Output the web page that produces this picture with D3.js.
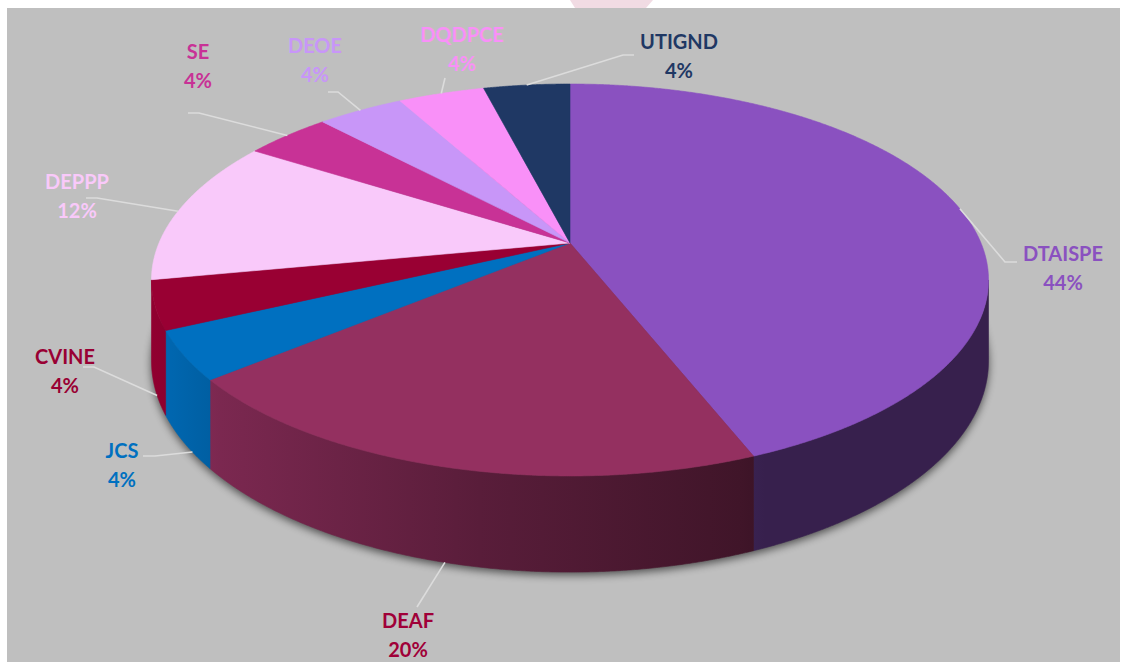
<!DOCTYPE html>
<html>
<head>
<meta charset="utf-8">
<script src="https://cdn.jsdelivr.net/npm/d3@7/dist/d3.min.js"></script>
<style>
html,body{margin:0;padding:0;background:#fff;}
svg{display:block;}
text{font-family:Lato,"Open Sans",sans-serif;font-weight:700;}
</style>
</head>
<body>
<svg id="chart" width="1125" height="665"></svg>
<script>
// ---- data ----
const categories = ["DTAISPE","DEAF","JCS","CVINE","DEPPP","SE","DEOE","DQDPCE","UTIGND"];
const values = [11,5,1,1,3,1,1,1,1];
const sliceColors = ["#8a51c0","#943060","#0070c0","#990033","#f9c9fa","#c83296","#c896f8","#f990f8","#1f3864"];
const labelColors = ["#8a51c0","#a00038","#0070c0","#990033","#f9c9fa","#c83296","#c896f8","#f990f8","#1f3864"];

// ---- layout (label placement, leader elbows) ----
const labelLayout = {
  DTAISPE:{x:1063,y:254,end:[1017,262],elbow:[1005,262]},
  DEAF:{x:408,y:621,end:[417,607],elbow:null},
  JCS:{x:122,y:451,end:[143,456],elbow:[155,456],anchorDeg:235},
  CVINE:{x:65,y:357,end:[83,367],elbow:[94,367],anchorDeg:250},
  DEPPP:{x:77,y:182,end:[86,198],elbow:[97,198],anchorDeg:280},
  SE:{x:198,y:52,end:[188,113],elbow:[199,113]},
  DEOE:{x:315,y:46,end:[328,92],elbow:[338,92]},
  DQDPCE:{x:462,y:35,end:[445,78],elbow:null},
  UTIGND:{x:679,y:42,end:[634,55],elbow:[623,55]}
};

const svg = d3.select("#chart");
const W = 1125, H = 665;

// background
svg.append("rect").attr("width",W).attr("height",H).attr("fill","#ffffff");
svg.append("polygon").attr("points","570,0 653,0 646,8 575,8").attr("fill","#f1dbe3");
svg.append("rect").attr("x",7).attr("y",8).attr("width",1113).attr("height",654).attr("fill","#bfbfbf");

// projection of a tilted disc with perspective
const cx = 570, cy = 243, A = 411, B = 189, k = 0.1887, depth = 78;
function proj(a, h){
  const u = Math.sin(a), v = -Math.cos(a);
  const s = 1/(1 - k*v);
  return [cx + A*u*s, cy + B*v*s + h*depth*s];
}
const pie = d3.pie().sort(null).value(d=>d)(values);
const step = Math.PI/720;
function arcPts(a0, a1, h){
  const pts=[]; const n=Math.max(2,Math.ceil((a1-a0)/step));
  for(let i=0;i<=n;i++){ pts.push(proj(a0+(a1-a0)*i/n, h)); }
  return pts;
}
const line = d3.line();

const defs = svg.append("defs");
const blur = defs.append("filter").attr("id","shadow").attr("x","-20%").attr("y","-20%").attr("width","140%").attr("height","140%");
blur.append("feGaussianBlur").attr("stdDeviation",4);

// shading along x for side walls
const shadeStops = [[150,0.95],[220,0.83],[480,0.6],[740,0.43],[765,0.40],[990,0.40]];
sliceColors.forEach((c,i)=>{
  const g = defs.append("linearGradient").attr("id","wall"+i)
    .attr("gradientUnits","userSpaceOnUse").attr("x1",150).attr("x2",990).attr("y1",0).attr("y2",0);
  const base = d3.rgb(c);
  shadeStops.forEach(([x,f])=>{
    g.append("stop").attr("offset",(x-150)/840)
      .attr("stop-color", d3.rgb(base.r*f, base.g*f, base.b*f).formatHex());
  });
});

// shadow
const shadowPts = arcPts(0, 2*Math.PI, 1).map(p=>[p[0], p[1]+3]);
svg.append("path").attr("d", line(shadowPts)+"Z").attr("fill","#000").attr("opacity",0.6).attr("filter","url(#shadow)");

// front walls
const aR = Math.acos(-k), aL = 2*Math.PI - Math.acos(-k);
const g = svg.append("g");
pie.forEach((d,i)=>{
  const a0 = Math.max(d.startAngle, aR), a1 = Math.min(d.endAngle, aL);
  if(a1 <= a0) return;
  const top = arcPts(a0, a1, 0), bot = arcPts(a0, a1, 1).reverse();
  g.append("path").attr("d", line(top.concat(bot))+"Z")
    .attr("fill","url(#wall"+i+")").attr("stroke","url(#wall"+i+")").attr("stroke-width",0.6);
});

// top faces
pie.forEach((d,i)=>{
  const pts = [[cx,cy]].concat(arcPts(d.startAngle, d.endAngle, 0));
  g.append("path").attr("d", line(pts)+"Z")
    .attr("fill", sliceColors[i]).attr("stroke", sliceColors[i]).attr("stroke-width",0.6);
});

// leader lines and labels
const total = d3.sum(values);
pie.forEach((d,i)=>{
  const name = categories[i];
  const L = labelLayout[name];
  const aDeg = L.anchorDeg !== undefined ? L.anchorDeg : ((d.startAngle+d.endAngle)/2)*180/Math.PI;
  const a = aDeg*Math.PI/180;
  const front = a > aR && a < aL && Math.cos(a) < -0.3;
  const anchor = proj(a, front ? 1 : 0);
  const pts = [L.end];
  if(L.elbow) pts.push(L.elbow);
  pts.push(anchor);
  svg.append("path").attr("d", line(pts)).attr("fill","none")
    .attr("stroke","#dcdcdc").attr("stroke-width",1.6);
  const t = svg.append("text").attr("text-anchor","middle").attr("fill",labelColors[i]).attr("font-size",20);
  t.append("tspan").attr("x",L.x).attr("y",L.y+7).text(name);
  t.append("tspan").attr("x",L.x).attr("y",L.y+36).text(Math.round(d.value/total*100)+"%");
});
</script>
</body>
</html>
